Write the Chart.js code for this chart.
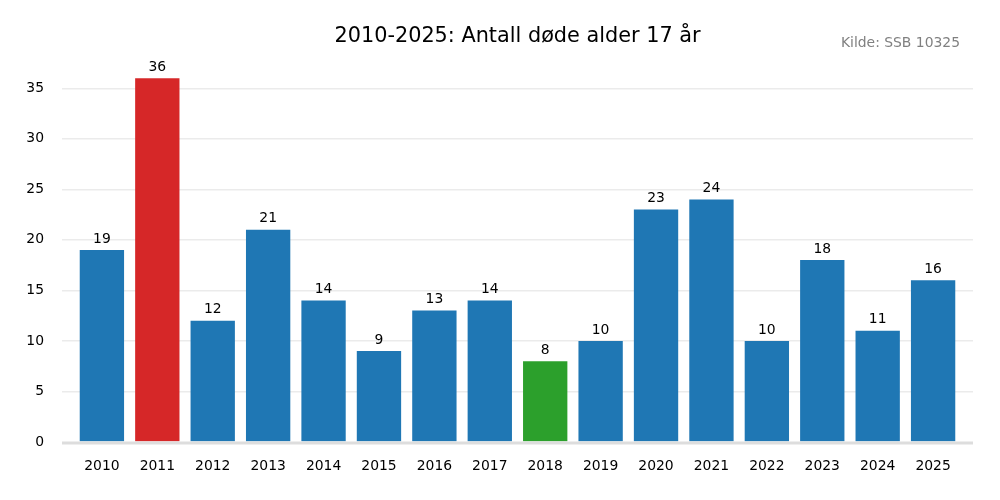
<!DOCTYPE html>
<html>
<head>
<meta charset="utf-8">
<script src="https://cdn.jsdelivr.net/npm/chart.js@4"></script>
<style>
  html, body { margin: 0; padding: 0; background: #fff; }
  #wrap { width: 1000px; height: 500px; position: relative; }
</style>
</head>
<body>
<div id="wrap"><canvas id="chart"></canvas></div>
<script>
const years = ['2010', '2011', '2012', '2013', '2014', '2015', '2016', '2017',
               '2018', '2019', '2020', '2021', '2022', '2023', '2024', '2025'];
const deaths = [19, 36, 12, 21, 14, 9, 13, 14, 8, 10, 23, 24, 10, 18, 11, 16];
const barColors = ['#1f77b4', '#d62728', '#1f77b4', '#1f77b4', '#1f77b4', '#1f77b4', '#1f77b4', '#1f77b4',
                   '#2ca02c', '#1f77b4', '#1f77b4', '#1f77b4', '#1f77b4', '#1f77b4', '#1f77b4', '#1f77b4'];
const yTicks = [0, 5, 10, 15, 20, 25, 30, 35];
const titleText = '2010-2025: Antall døde alder 17 år';
const sourceText = 'Kilde: SSB 10325';

const FONT = "'DejaVu Sans', sans-serif";

// Draws title, source note and value labels above the bars
const labelsPlugin = {
    id: 'labels',
    afterDatasetsDraw(chart) {
        const ctx = chart.ctx;
        const area = chart.chartArea;
        ctx.save();
        ctx.fillStyle = '#000';
        ctx.font = '20.8px ' + FONT;
        ctx.textAlign = 'center';
        ctx.textBaseline = 'middle';
        ctx.fillText(titleText, (area.left + area.right) / 2, 37);

        ctx.fillStyle = '#808080';
        ctx.font = '13.9px ' + FONT;
        ctx.textAlign = 'right';
        ctx.fillText(sourceText, 960, 43);

        ctx.fillStyle = '#000';
        ctx.textAlign = 'center';
        ctx.textBaseline = 'bottom';
        const meta = chart.getDatasetMeta(0);
        meta.data.forEach((bar, i) => {
            ctx.fillText(String(deaths[i]), bar.x, bar.y - 4);
        });

        // thick light baseline at zero
        const y0 = chart.scales.y.getPixelForValue(0);
        ctx.strokeStyle = '#dddddd';
        ctx.lineWidth = 3;
        ctx.beginPath();
        ctx.moveTo(area.left, y0 + 1);
        ctx.lineTo(area.right, y0 + 1);
        ctx.stroke();
        ctx.restore();
    }
};

new Chart(document.getElementById('chart'), {
    type: 'bar',
    data: {
        datasets: [{
            data: years.map((y, i) => ({ x: i, y: deaths[i] })),
            backgroundColor: barColors,
            borderWidth: 0,
            barPercentage: 0.8,
            categoryPercentage: 1.0
        }]
    },
    options: {
        responsive: true,
        maintainAspectRatio: false,
        animation: false,
        layout: { padding: { top: 60, right: 27, left: 0, bottom: 0 } },
        plugins: {
            legend: { display: false },
            tooltip: { enabled: false }
        },
        scales: {
            x: {
                type: 'linear',
                min: -0.72,
                max: 15.72,
                offset: false,
                grid: { display: false, drawTicks: false },
                border: { display: false },
                afterBuildTicks(scale) {
                    scale.ticks = years.map((y, i) => ({ value: i }));
                },
                afterFit(scale) { scale.height = 58; },
                ticks: {
                    color: '#000',
                    font: { family: FONT, size: 13.9 },
                    padding: 16,
                    maxRotation: 0,
                    autoSkip: false,
                    callback: (v) => years[v]
                }
            },
            y: {
                min: 0,
                max: 37.8,
                afterBuildTicks(scale) {
                    scale.ticks = yTicks.map(v => ({ value: v }));
                },
                afterFit(scale) { scale.width = 62; },
                grid: {
                    color: (c) => c.tick && c.tick.value === 0 ? 'rgba(0,0,0,0)' : '#ebebeb',
                    lineWidth: 1.5,
                    drawTicks: false
                },
                border: { display: false },
                ticks: {
                    color: '#000',
                    font: { family: FONT, size: 13.9 },
                    padding: 18
                }
            }
        }
    },
    plugins: [labelsPlugin]
});
</script>
</body>
</html>
